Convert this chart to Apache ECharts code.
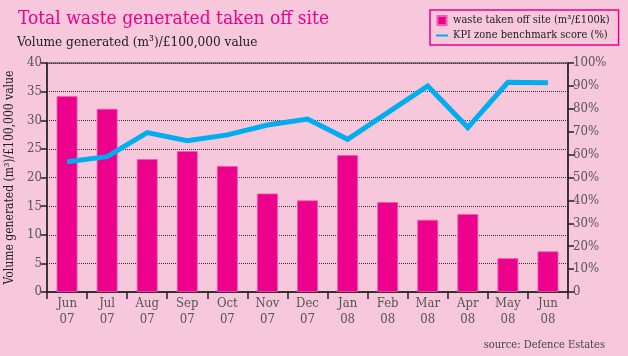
<!DOCTYPE html>
<html><head><meta charset="utf-8">
<script src="https://cdn.jsdelivr.net/npm/echarts@6/dist/echarts.min.js"></script>
<style>html,body{margin:0;padding:0;background:#f7c7dc;}#c{width:628px;height:356px;}</style>
</head><body><div id="c"></div>
<script>
const categories = ['Jun\n07','Jul\n07','Aug\n07','Sep\n07','Oct\n07','Nov\n07','Dec\n07','Jan\n08','Feb\n08','Mar\n08','Apr\n08','May\n08','Jun\n08'];
const wasteValues = [34.2, 32.0, 23.2, 24.6, 22.0, 17.2, 16.0, 23.9, 15.7, 12.6, 13.6, 5.9, 7.1];
const kpiValues = [56.9, 59.1, 69.6, 66.1, 68.6, 72.9, 75.5, 66.7, 78.3, 90.0, 71.8, 91.6, 91.4];
const leftTicks = [0,5,10,15,20,25,30,35,40];
const rightTicks = [0,10,20,30,40,50,60,70,80,90,100];

const FONT = '"DejaVu Serif Condensed", "DejaVu Serif", serif';
const chart = echarts.init(document.getElementById('c'), null, {renderer:'canvas'});
chart.setOption({
  backgroundColor: '#f7c7dc',
  animation: false,
  textStyle: {fontFamily: FONT},
  title: [{
    text: 'Total waste generated taken off site',
    left: 13, top: 5,
    textStyle: {color:'#ec008c', fontSize: 19, fontWeight:'normal', fontFamily: FONT}
  },{
    text: 'Volume generated (m³)/£100,000 value',
    left: 12, top: 30,
    textStyle: {color:'#222', fontSize: 13.5, fontWeight:'normal', fontFamily: FONT}
  },{
    text: 'source: Defence Estates',
    right: 18, top: 335,
    textStyle: {color:'#444', fontSize: 11, fontWeight:'normal', fontFamily: FONT}
  }],
  legend: {
    orient: 'vertical',
    left: 430, top: 10,
    width: 188,
    padding: [5, 9, 4, 6],
    itemGap: 4,
    itemWidth: 12, itemHeight: 9,
    borderColor: '#ec008c', borderWidth: 1.5,
    textStyle: {fontSize: 11, color:'#222', fontFamily: FONT},
    data: [
      {name:'waste taken off site (m³/£100k)', icon:'path://M2,0h8v8h-8z', itemStyle:{color:'#ec008c'}},
      {name:'KPI zone benchmark score (%)', icon:'path://M0,3h12v2h-12z', itemStyle:{color:'#00aeef'}}
    ]
  },
  grid: {left: 47, right: 60, top: 63, bottom: 64, outerBoundsMode:'none', containLabel:false, show: true, borderColor:'#222', borderWidth:1, backgroundColor:'transparent'},
  xAxis: {
    type: 'category',
    data: categories,
    axisLine: {lineStyle:{color:'#222', width:1.5}},
    axisTick: {show:true, alignWithLabel:false, length:7, lineStyle:{color:'#222', width:1.5}},
    axisLabel: {color:'#555', fontSize: 13, lineHeight: 16, margin: 4, fontFamily: FONT}
  },
  yAxis: [{
    type:'value', min:0, max:40, interval:5,
    name:'Volume generated (m³)/£100,000 value',
    nameLocation:'middle', nameGap: 31, nameRotate: 90,
    nameTextStyle:{color:'#222', fontSize:12, fontFamily: FONT},
    axisLine:{show:true, lineStyle:{color:'#222', width:1.5}},
    axisTick:{show:true, length:6, lineStyle:{color:'#222', width:1.5}},
    axisLabel:{color:'#555', fontSize:13, margin:5, fontFamily: FONT},
    splitLine:{show:true, lineStyle:{color:'#333', type:[1,1], width:1}}
  },{
    type:'value', min:0, max:100, interval:10, position:'right',
    axisLine:{show:true, lineStyle:{color:'#222', width:1.5}},
    axisTick:{show:true, length:6, lineStyle:{color:'#222', width:1.5}},
    axisLabel:{color:'#555', fontSize:13, margin:5, fontFamily: FONT, formatter: v => v === 0 ? '0' : v + '%'},
    splitLine:{show:false}
  }],
  series: [{
    name:'waste taken off site (m³/£100k)',
    type:'bar',
    data: wasteValues,
    barWidth: '52%',
    itemStyle:{color:'#ec008c', borderColor:'#f25aa8', borderWidth:0.8},
    yAxisIndex: 0
  },{
    name:'KPI zone benchmark score (%)',
    type:'line',
    data: kpiValues,
    yAxisIndex: 1,
    symbol:'none',
    lineStyle:{color:'#00aeef', width:5, join:'miter'},
    itemStyle:{color:'#00aeef'}
  }]
});
</script></body></html>
